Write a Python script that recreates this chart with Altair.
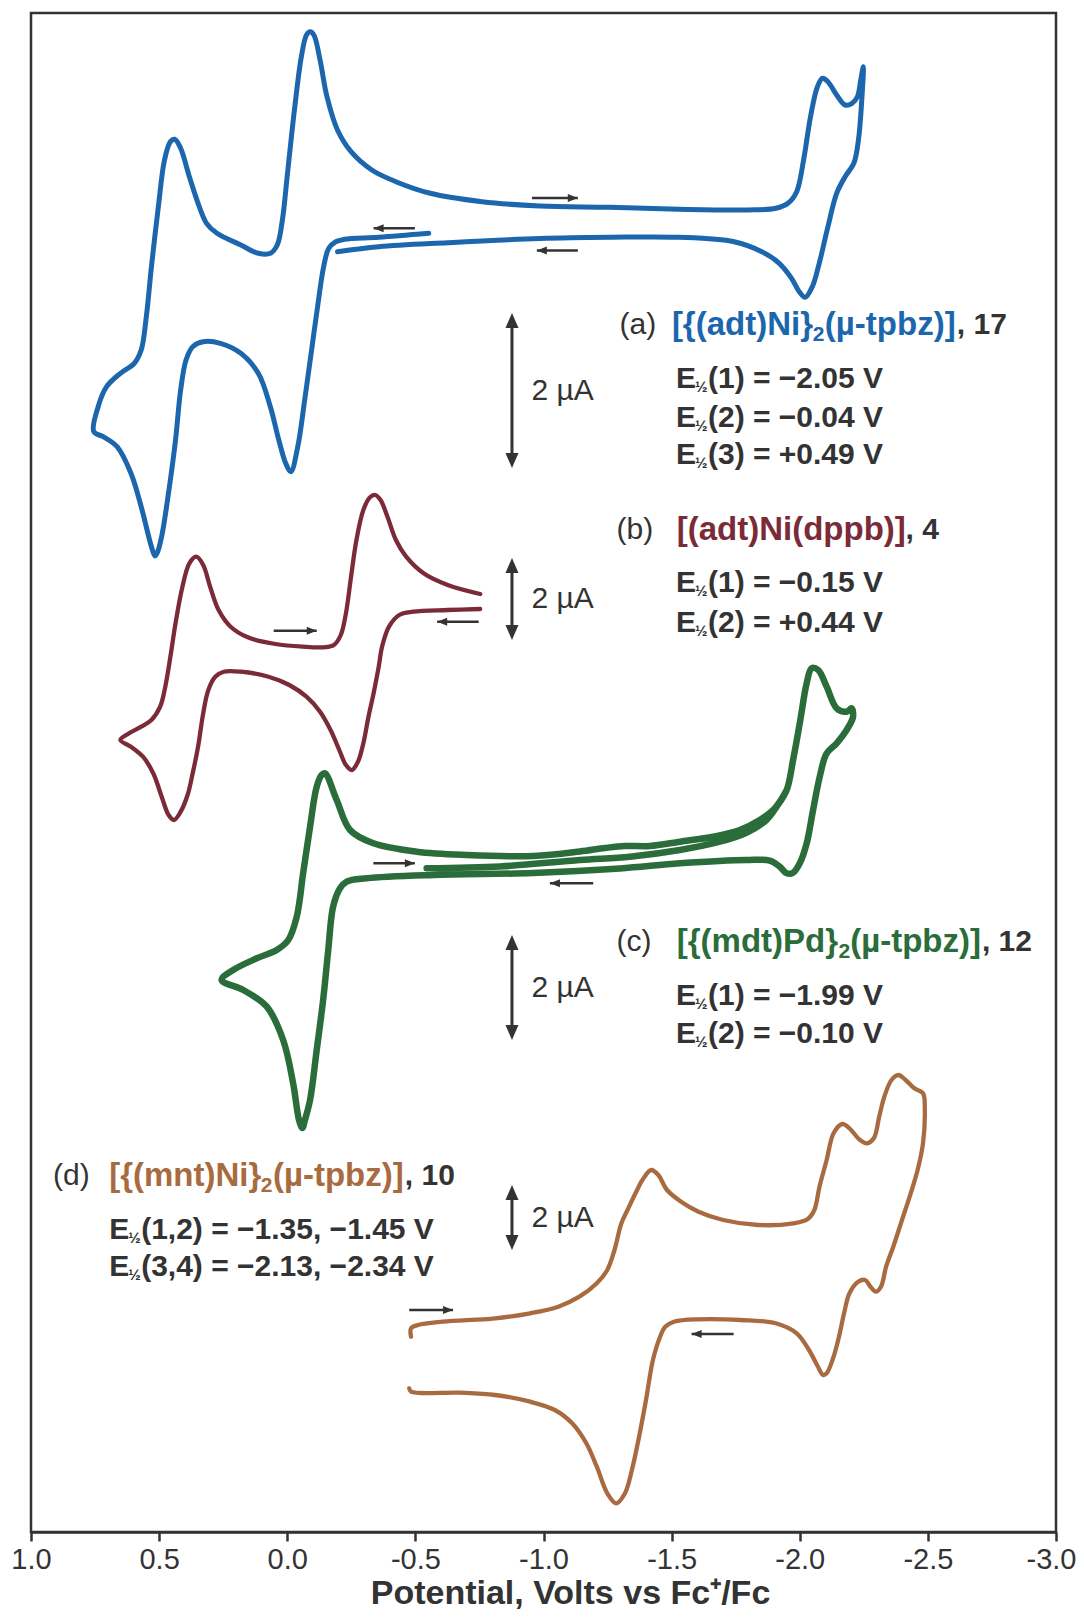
import altair as alt
import pandas as pd

# ---------------- data (potential in V vs Fc+/Fc, current offset in plot units) -------------
a_E = [-0.552, -0.357, -0.223, -0.189, -0.162, -0.142, -0.122, -0.095, -0.068, -0.041,
       -0.014, 0.006, 0.033, 0.066, 0.113, 0.181, 0.261, 0.328, 0.369, 0.395,
       0.416, 0.436, 0.460, 0.489, 0.506, 0.516, 0.530, 0.570, 0.610, 0.664,
       0.718, 0.755, 0.738, 0.705, 0.651, 0.597, 0.570, 0.550, 0.530, 0.503,
       0.479, 0.456, 0.439, 0.416, 0.382, 0.348, 0.315, 0.274, 0.181, 0.113,
       0.066, 0.039, 0.019, -0.001, -0.028, -0.055, -0.075, -0.089, -0.104, -0.128,
       -0.155, -0.196, -0.249, -0.330, -0.424, -0.558, -0.760, -0.986, -1.257, -1.527,
       -1.798, -1.907, -1.954, -1.988, -2.015, -2.042, -2.069, -2.089, -2.110, -2.144,
       -2.177, -2.204, -2.225, -2.238, -2.248, -2.242, -2.229, -2.211, -2.177, -2.144,
       -2.110, -2.076, -2.049, -2.021, -1.998, -1.968, -1.920, -1.852, -1.744, -1.527,
       -1.257, -0.986, -0.626, -0.357, -0.196]
a_I = [1298.7, 1294.7, 1292.7, 1290.3, 1283.7, 1265.3, 1232, 1182, 1132, 1085.3,
       1060.3, 1068.7, 1092, 1125.3, 1158.7, 1178.7, 1188.7, 1190.3, 1185.3, 1172,
       1142, 1092, 1045, 997, 980, 976, 985.3, 1025.3, 1058.7, 1085.3,
       1095.3, 1100.3, 1125.3, 1145.3, 1158.7, 1168.7, 1182, 1215.3, 1265.3, 1325.3,
       1372, 1390.3, 1392.7, 1383.7, 1355.3, 1328.7, 1308.7, 1298.7, 1287, 1278.7,
       1278.7, 1287, 1312, 1358.7, 1422, 1475.3, 1497, 1500.3, 1497, 1472,
       1435.3, 1402, 1380.3, 1362, 1350.3, 1338.7, 1330.3, 1326, 1324.7, 1322.7,
       1322, 1323.7, 1328.7, 1340.3, 1372, 1415.3, 1445.3, 1453.7, 1450.3, 1437,
       1427, 1428.7, 1435.3, 1452, 1465.3, 1432, 1392, 1368.7, 1355.3, 1338.7,
       1305.3, 1268.7, 1245.3, 1234.7, 1240.3, 1253.7, 1268.7, 1280.3, 1290.3, 1294.7,
       1294.7, 1293.5, 1289.3, 1285.3, 1280.3]

b_E = [-0.753, -0.626, -0.491, -0.437, -0.397, -0.370, -0.357, -0.337, -0.317, -0.297,
       -0.276, -0.252, -0.229, -0.203, -0.169, -0.128, -0.075, -0.008, 0.073, 0.181,
       0.248, 0.281, 0.308, 0.328, 0.348, 0.369, 0.389, 0.416, 0.442, 0.463,
       0.490, 0.523, 0.563, 0.610, 0.651, 0.617, 0.570, 0.530, 0.496, 0.476,
       0.456, 0.436, 0.409, 0.382, 0.355, 0.328, 0.301, 0.268, 0.221, 0.154,
       0.046, -0.061, -0.142, -0.182, -0.209, -0.229, -0.249, -0.270, -0.297, -0.323,
       -0.343, -0.364, -0.391, -0.424, -0.464, -0.532, -0.626, -0.753]
b_I = [923, 922, 920.3, 917, 905.3, 885.3, 865.3, 838.7, 815.3, 788.7,
       770.3, 762, 767, 782, 802, 820.3, 835.3, 847, 855.3, 860.3,
       860.3, 855.3, 842, 818.7, 785.3, 758.7, 737, 720.3, 712, 717,
       735.3, 758.7, 775.3, 785.3, 792, 798.7, 805.3, 812, 825.3, 845.3,
       875.3, 908.7, 945.3, 968.7, 975.3, 967, 945.3, 922, 905.3, 894.7,
       888, 885.3, 884.7, 887, 897, 918.7, 955.3, 992, 1022, 1034.7,
       1037, 1032, 1015.3, 992, 975.3, 958.7, 947, 938]

c_E = [-0.544, -0.830, -1.142, -1.337, -1.532, -1.688, -1.792, -1.870, -1.910, -1.949,
       -1.974, -2.000, -2.027, -2.046, -2.072, -2.105, -2.144, -2.183, -2.202, -2.208,
       -2.183, -2.144, -2.105, -2.078, -2.052, -2.027, -2.000, -1.974, -1.949, -1.922,
       -1.883, -1.792, -1.532, -1.298, -0.959, -0.570, -0.310, -0.232, -0.206, -0.179,
       -0.160, -0.140, -0.115, -0.089, -0.069, -0.059, -0.046, -0.023, 0.016, 0.080,
       0.172, 0.256, 0.211, 0.119, 0.041, -0.004, -0.037, -0.062, -0.089, -0.115,
       -0.134, -0.147, -0.193, -0.245, -0.336, -0.505, -0.700, -0.960, -1.142, -1.240,
       -1.318, -1.415, -1.532, -1.662, -1.766, -1.844, -1.896, -1.922, -1.949]
c_I = [663.7, 665.5, 672, 675.3, 682, 690.3, 699.3, 712, 725.3, 742,
       772, 808.7, 848.7, 863.7, 862, 845.3, 823.7, 820.3, 823.7, 815.3,
       802, 788.7, 778.7, 755.3, 722, 688.7, 668.7, 659.3, 658.7, 665.3,
       671.3, 672, 668.7, 663.5, 659, 657, 653.7, 650.3, 643.7, 625.3,
       582, 532, 482, 432, 412, 404, 412, 448.7, 492, 525.3,
       542, 552, 562, 573.7, 582, 592, 615.3, 658.7, 705.3, 745.3,
       757, 758.7, 732, 702, 688.7, 680.3, 677, 676, 680.5, 684,
       686, 686, 690.3, 695.3, 702, 712, 722, 730.3, 742]

d_E = [-0.483, -0.483, -0.510, -0.606, -0.811, -0.948, -1.058, -1.140, -1.208, -1.249,
       -1.277, -1.304, -1.331, -1.359, -1.386, -1.420, -1.448, -1.482, -1.537, -1.605,
       -1.701, -1.838, -1.975, -2.030, -2.057, -2.077, -2.105, -2.132, -2.166, -2.194,
       -2.235, -2.262, -2.289, -2.310, -2.330, -2.358, -2.385, -2.413, -2.447, -2.481,
       -2.488, -2.481, -2.460, -2.433, -2.399, -2.365, -2.337, -2.317, -2.297, -2.276,
       -2.255, -2.228, -2.194, -2.173, -2.153, -2.132, -2.105, -2.091, -2.071, -2.036,
       -1.988, -1.906, -1.769, -1.605, -1.509, -1.475, -1.455, -1.427, -1.400, -1.373,
       -1.345, -1.318, -1.284, -1.249, -1.208, -1.167, -1.112, -1.044, -0.948, -0.811,
       -0.675, -0.483, -0.476]
d_I = [195.3, 203.7, 207, 210.3, 213.7, 218.7, 225.3, 235.3, 248.7, 262,
       282, 308.7, 323.7, 338.7, 352, 362, 357, 342, 330.3, 320.3,
       312, 307, 308.7, 312.7, 322, 345.3, 372, 398.7, 408, 403.7,
       392, 388.7, 393.7, 415.3, 435.3, 452, 457, 452, 443.7, 438.7,
       422, 388.7, 362, 338.7, 312, 285.3, 265.3, 245.3, 240.3, 245.3,
       252, 250.3, 238.7, 218.7, 195.3, 175.3, 158.7, 157, 165.3, 182,
       198.7, 208.7, 212, 212.7, 210.3, 205.3, 195.3, 172, 132, 95.3,
       62, 38.7, 28.7, 38.7, 65.3, 88.7, 108.7, 122, 130.3, 137,
       139.3, 140.3, 143.7]

tick_values = [1.0, 0.5, 0.0, -0.5, -1.0, -1.5, -2.0, -2.5, -3.0]
x_title = "Potential, Volts vs Fc\u207a/Fc"

# labels
letters = ["(a)", "(b)", "(c)", "(d)"]
names_1 = ["[{(adt)Ni}", "[(adt)Ni(dppb)]", "[{(mdt)Pd}", "[{(mnt)Ni}"]
names_2 = ["(\u00b5-tpbz)]", "", "(\u00b5-tpbz)]", "(\u00b5-tpbz)]"]
numbers = [", 17", ", 4", ", 12", ", 10"]
e_lines = [
    ["(1) = \u22122.05 V", "(2) = \u22120.04 V", "(3) = +0.49 V"],
    ["(1) = \u22120.15 V", "(2) = +0.44 V"],
    ["(1) = \u22121.99 V", "(2) = \u22120.10 V"],
    ["(1,2) = \u22121.35, \u22121.45 V", "(3,4) = \u22122.13, \u22122.34 V"],
]
scale_label = "2 \u00b5A"

# ---------------- styling / placement ----------------
COLORS = ["#1b66ad", "#7b2b37", "#2b6d3a", "#a86b40"]
WIDTHS = [5.0, 4.3, 6.5, 4.3]
DARK = "#333333"
FONT = "Liberation Sans"

# annotation anchors (potential, plot units)
letter_pos = [(-1.297, 1207), (-1.285, 1002), (-1.285, 590), (0.914, 356)]
name1_pos = [-1.501, -1.520, -1.520, 0.695]
sub_pos = [-2.051, None, -2.151, 0.103]
name2_pos = [-2.098, None, -2.197, 0.056]
number_pos = [-2.613, -2.413, -2.711, -0.459]
eline_x = [-1.517, -1.517, -1.517, 0.695]
eline_y = [[1153, 1114, 1077], [949, 909.5], [536, 498.5], [302.5, 265]]
bar_x = -0.877
bar_ends = [(1219, 1064), (974, 892), (597, 492), (347, 282)]
bar_label_x = -0.953
# small scan-direction arrows: (tail, head, level)
scan_arrows = [(-0.955, -1.134, 1334), (-0.498, -0.337, 1303.7), (-1.134, -0.974, 1281.5),
               (0.053, -0.115, 901.3), (-0.747, -0.585, 910.3),
               (-0.336, -0.498, 668.7), (-1.194, -1.025, 648.7),
               (-0.476, -0.647, 222), (-1.742, -1.578, 198)]

x_scale = alt.Scale(domain=[1.0, -3.0], nice=False, zero=False)
y_scale = alt.Scale(domain=[0, 1519], nice=False, zero=False)
x_axis = alt.Axis(values=tick_values,
                  labelExpr="replace(format(datum.value, '.1f'), '\u2212', '-')",
                  title=x_title, grid=False, tickSize=9, tickWidth=2.5, tickColor=DARK,
                  domainWidth=2.5, domainColor=DARK, labelFont=FONT, labelFontSize=29,
                  labelColor=DARK, labelPadding=4, labelFlush=False, labelOverlap=False,
                  labelOffset=alt.ConditionalAxisNumber(
                      condition={"test": "datum.value <= -2.99", "value": -5}, value=0),
                  titleFont=FONT, titleFontSize=34, titleFontWeight="bold",
                  titleColor=DARK, titlePadding=2, titleX=539, titleAlign="center")


def X(field):
    return alt.X(field, type="quantitative", scale=x_scale, axis=x_axis)


def Y(field):
    return alt.Y(field, type="quantitative", scale=y_scale, axis=None)


layers = []
for E, I, col, w in zip([a_E, b_E, c_E, d_E], [a_I, b_I, c_I, d_I], COLORS, WIDTHS):
    df = pd.DataFrame({"E": E, "I": I, "k": list(range(len(E)))})
    layers.append(
        alt.Chart(df).mark_line(color=col, strokeWidth=w, interpolate="catmull-rom",
                                strokeCap="round", strokeJoin="round")
        .encode(x=X("E"), y=Y("I"), order=alt.Order("k:Q"))
    )

# scale bars
bars = pd.DataFrame({"x": [bar_x] * 4,
                     "top": [t for t, b in bar_ends], "bot": [b for t, b in bar_ends],
                     "mtop": [t - 10 for t, b in bar_ends], "mbot": [b + 10 for t, b in bar_ends]})
layers.append(alt.Chart(bars).mark_rule(color=DARK, strokeWidth=3)
              .encode(x=X("x"), y=Y("mtop"), y2="mbot"))
layers.append(alt.Chart(bars).mark_point(shape="M0,0L0.65,1.5L-0.65,1.5Z", filled=True,
                                         size=400, color=DARK, opacity=1, strokeWidth=0)
              .encode(x=X("x"), y=Y("top")))
layers.append(alt.Chart(bars).mark_point(shape="M0,0L0.65,-1.5L-0.65,-1.5Z", filled=True,
                                         size=400, color=DARK, opacity=1, strokeWidth=0)
              .encode(x=X("x"), y=Y("bot")))
bar_lab = pd.DataFrame({"x": [bar_label_x] * 4,
                        "y": [(t + b) / 2 for t, b in bar_ends], "t": [scale_label] * 4})
layers.append(alt.Chart(bar_lab).mark_text(align="left", baseline="middle", font=FONT,
                                           fontSize=30, color=DARK)
              .encode(x=X("x"), y=Y("y"), text="t:N"))

# scan direction arrows
sa = pd.DataFrame(scan_arrows, columns=["tail", "head", "lvl"])
sa["dir"] = ["r" if h < t else "l" for t, h, _ in scan_arrows]
layers.append(alt.Chart(sa).mark_rule(color=DARK, strokeWidth=2.5)
              .encode(x=X("tail"), x2="head", y=Y("lvl")))
layers.append(alt.Chart(sa[sa["dir"] == "r"]).mark_point(
    shape="M0,0L-2,-0.8L-2,0.8Z", filled=True, size=100, color=DARK, opacity=1, strokeWidth=0)
    .encode(x=X("head"), y=Y("lvl")))
layers.append(alt.Chart(sa[sa["dir"] == "l"]).mark_point(
    shape="M0,0L2,-0.8L2,0.8Z", filled=True, size=100, color=DARK, opacity=1, strokeWidth=0)
    .encode(x=X("head"), y=Y("lvl")))

# headings
heads = pd.DataFrame({"x": [p[0] for p in letter_pos], "y": [p[1] for p in letter_pos],
                      "t": letters})
layers.append(alt.Chart(heads).mark_text(align="left", baseline="middle", font=FONT,
                                         fontSize=30, color=DARK)
              .encode(x=X("x"), y=Y("y"), text="t:N"))
n1 = pd.DataFrame({"x": name1_pos, "y": [p[1] for p in letter_pos], "t": names_1, "c": COLORS})
layers.append(alt.Chart(n1).mark_text(align="left", baseline="middle", font=FONT,
                                      fontSize=33, fontWeight="bold")
              .encode(x=X("x"), y=Y("y"), text="t:N", color=alt.Color("c:N", scale=None)))
rows2 = [i for i in range(4) if sub_pos[i] is not None]
subs = pd.DataFrame({"x": [sub_pos[i] for i in rows2], "y": [letter_pos[i][1] for i in rows2],
                     "t": ["2"] * len(rows2), "c": [COLORS[i] for i in rows2]})
layers.append(alt.Chart(subs).mark_text(align="left", baseline="middle", font=FONT,
                                        fontSize=21, fontWeight="bold", dy=10)
              .encode(x=X("x"), y=Y("y"), text="t:N", color=alt.Color("c:N", scale=None)))
n2 = pd.DataFrame({"x": [name2_pos[i] for i in rows2], "y": [letter_pos[i][1] for i in rows2],
                   "t": [names_2[i] for i in rows2], "c": [COLORS[i] for i in rows2]})
layers.append(alt.Chart(n2).mark_text(align="left", baseline="middle", font=FONT,
                                      fontSize=33, fontWeight="bold")
              .encode(x=X("x"), y=Y("y"), text="t:N", color=alt.Color("c:N", scale=None)))
nums = pd.DataFrame({"x": number_pos, "y": [p[1] for p in letter_pos], "t": numbers})
layers.append(alt.Chart(nums).mark_text(align="left", baseline="middle", font=FONT,
                                        fontSize=30, fontWeight="bold", color=DARK)
              .encode(x=X("x"), y=Y("y"), text="t:N"))

# half-wave potential lines: E + small 1/2 + rest
ex, ey, et = [], [], []
for i in range(4):
    for yy, tt in zip(eline_y[i], e_lines[i]):
        ex.append(eline_x[i]); ey.append(yy); et.append(tt)
el = pd.DataFrame({"x": ex, "y": ey, "t": et, "e": ["E"] * len(ex), "h": ["\u00bd"] * len(ex)})
layers.append(alt.Chart(el).mark_text(align="left", baseline="middle", font=FONT,
                                      fontSize=30, fontWeight="bold", color=DARK)
              .encode(x=X("x"), y=Y("y"), text="e:N"))
layers.append(alt.Chart(el).mark_text(align="left", baseline="middle", font=FONT,
                                      fontSize=15, fontWeight="bold", color=DARK, dx=19, dy=8)
              .encode(x=X("x"), y=Y("y"), text="h:N"))
layers.append(alt.Chart(el).mark_text(align="left", baseline="middle", font=FONT,
                                      fontSize=30, fontWeight="bold", color=DARK, dx=32)
              .encode(x=X("x"), y=Y("y"), text="t:N"))

chart = alt.layer(*layers).properties(
    width=1025, height=1519,
    padding={"left": 23, "top": 5, "right": 20, "bottom": 79},
    autosize=alt.AutoSizeParams(type="none"),
    background="white",
).configure_view(stroke=DARK, strokeWidth=2.5)

chart.save("out.html", embed_options={"renderer": "svg", "actions": False})
